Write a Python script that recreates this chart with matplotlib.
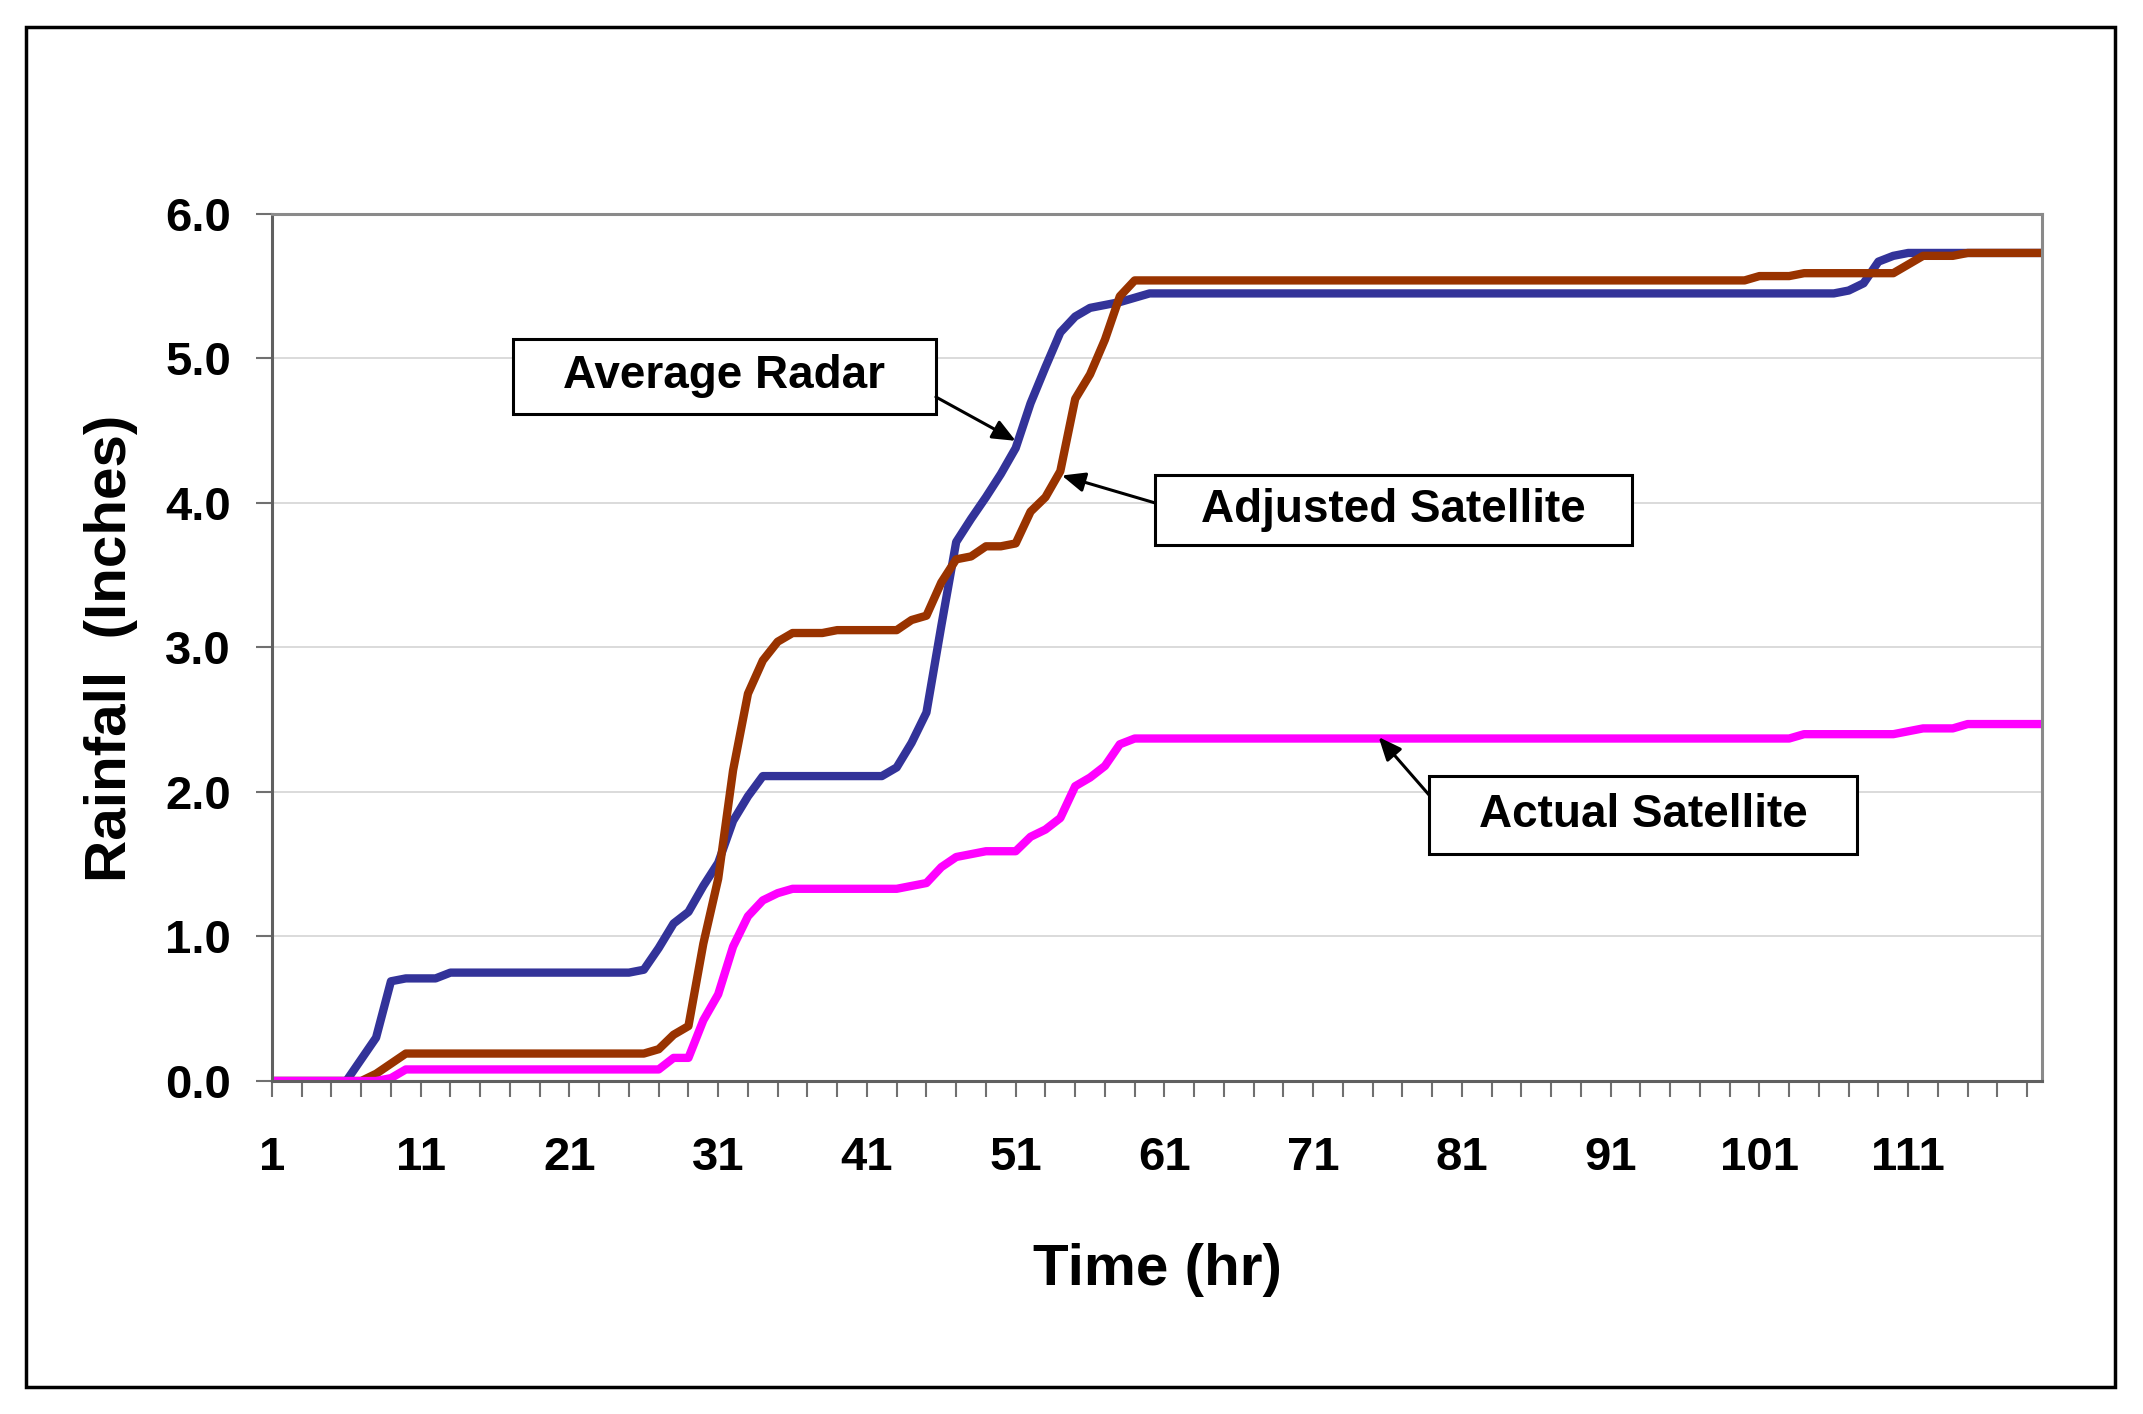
import matplotlib
matplotlib.use('Agg')
import matplotlib.pyplot as plt
from matplotlib.patches import Rectangle

# hourly cumulative rainfall (inches)
hours = list(range(1, 121))

avg_radar = ([0.0] * 6 + [0.15, 0.30, 0.69, 0.71, 0.71, 0.71] + [0.75] * 13
             + [0.77, 0.92, 1.09, 1.17, 1.35, 1.51, 1.80, 1.97] + [2.11] * 9
             + [2.17, 2.34, 2.55, 3.15, 3.73, 3.89, 4.04, 4.20, 4.38, 4.69,
                4.94, 5.18, 5.29, 5.35, 5.37, 5.39, 5.42]
             + [5.45] * 47 + [5.47, 5.52, 5.67, 5.71] + [5.73] * 10)

adj_satellite = ([0.0] * 7 + [0.05, 0.12] + [0.19] * 17
                 + [0.22, 0.32, 0.38, 0.95, 1.40, 2.15, 2.68, 2.91, 3.04]
                 + [3.10] * 3 + [3.12] * 5
                 + [3.19, 3.22, 3.45, 3.61, 3.63, 3.70, 3.70, 3.72, 3.94, 4.04,
                    4.22, 4.72, 4.89, 5.13, 5.43]
                 + [5.54] * 42 + [5.57] * 3 + [5.59] * 7 + [5.65] + [5.71] * 3 + [5.73] * 6)

act_satellite = ([0.0] * 8 + [0.02] + [0.08] * 18
                 + [0.16, 0.16, 0.42, 0.60, 0.93, 1.14, 1.25, 1.30] + [1.33] * 8
                 + [1.35, 1.37, 1.48, 1.55, 1.57, 1.59, 1.59, 1.59, 1.69, 1.74,
                    1.82, 2.04, 2.10, 2.18, 2.33]
                 + [2.37] * 45 + [2.40] * 7 + [2.42] + [2.44] * 3 + [2.47] * 6)

y_ticks = [0, 1, 2, 3, 4, 5, 6]
x_ticks = list(range(1, 120, 2))
x_labels = [str(h) if (h - 1) % 10 == 0 else '' for h in x_ticks]

plt.rcParams['font.family'] = ['Liberation Sans', 'DejaVu Sans']
plt.rcParams['font.weight'] = 'bold'

fig = plt.figure(figsize=(21.43, 14.14), dpi=100)
ax = fig.add_axes([0.1269, 0.2355, 0.826, 0.6132])

ax.plot(hours, avg_radar, color='#333399', lw=6, solid_joinstyle='round')
ax.plot(hours, adj_satellite, color='#993300', lw=6, solid_joinstyle='round')
ax.plot(hours, act_satellite, color='#ff00ff', lw=6, solid_joinstyle='round')

ax.set_xlim(1, 120)
ax.set_ylim(0, 6)
ax.set_yticks(y_ticks)
ax.set_yticklabels([f'{v:.1f}' for v in y_ticks])
ax.set_xticks(x_ticks)
ax.set_xticklabels(x_labels)
ax.yaxis.grid(True, color='#d4d4d4', lw=1.2)
ax.set_axisbelow(True)

for side in ['left', 'bottom']:
    ax.spines[side].set_color('#606060')
    ax.spines[side].set_linewidth(2.2)
for side in ['top', 'right']:
    ax.spines[side].set_color('#8a8a8a')
    ax.spines[side].set_linewidth(2.2)

ax.tick_params(axis='both', direction='out', length=11.5, width=1.5, color='#707070',
               labelsize=34)
ax.tick_params(axis='y', pad=18)
ax.tick_params(axis='x', pad=28)

fig.text(0.5399, 0.0912, 'Time (hr)', ha='center', va='baseline', fontsize=42, fontweight='bold')
fig.text(0.0518, 0.5417, 'Rainfall  (Inches)', ha='center', va='center', rotation=90,
         fontsize=42, fontweight='bold')

# text boxes with arrows (box in axes fraction, arrow tip on the curve)
notes = [
    ('Average Radar', (0.1362, 0.7693, 0.3751, 0.8558), (0.3751, 0.7889), (51.0, 4.43)),
    ('Adjusted Satellite', (0.4989, 0.6182, 0.7684, 0.6990), (0.4989, 0.6667), (54.1, 4.19)),
    ('Actual Satellite', (0.6537, 0.2618, 0.8955, 0.3512), (0.6537, 0.3299), (75.4, 2.38)),
]
for label, (x0, y0, x1, y1), tail, tip in notes:
    ax.add_patch(Rectangle((x0, y0), x1 - x0, y1 - y0, transform=ax.transAxes,
                           facecolor='white', edgecolor='black', lw=2.2, zorder=5))
    ax.text((x0 + x1) / 2, (y0 + y1) / 2, label, transform=ax.transAxes, ha='center',
            va='center', fontsize=33, fontweight='bold', zorder=6)
    ax.annotate('', xy=tip, xycoords='data', xytext=tail, textcoords='axes fraction',
                arrowprops=dict(arrowstyle='-|>,head_length=0.7,head_width=0.3',
                                color='black', lw=2.2, mutation_scale=20,
                                shrinkA=0, shrinkB=0), zorder=6)

# outer frame around the whole chart
fig.patches.append(Rectangle((0.0121, 0.0191), 0.9748, 0.9619, transform=fig.transFigure,
                             fill=False, edgecolor='black', lw=2.5))

fig.savefig('out.png', dpi=100, facecolor='white')
